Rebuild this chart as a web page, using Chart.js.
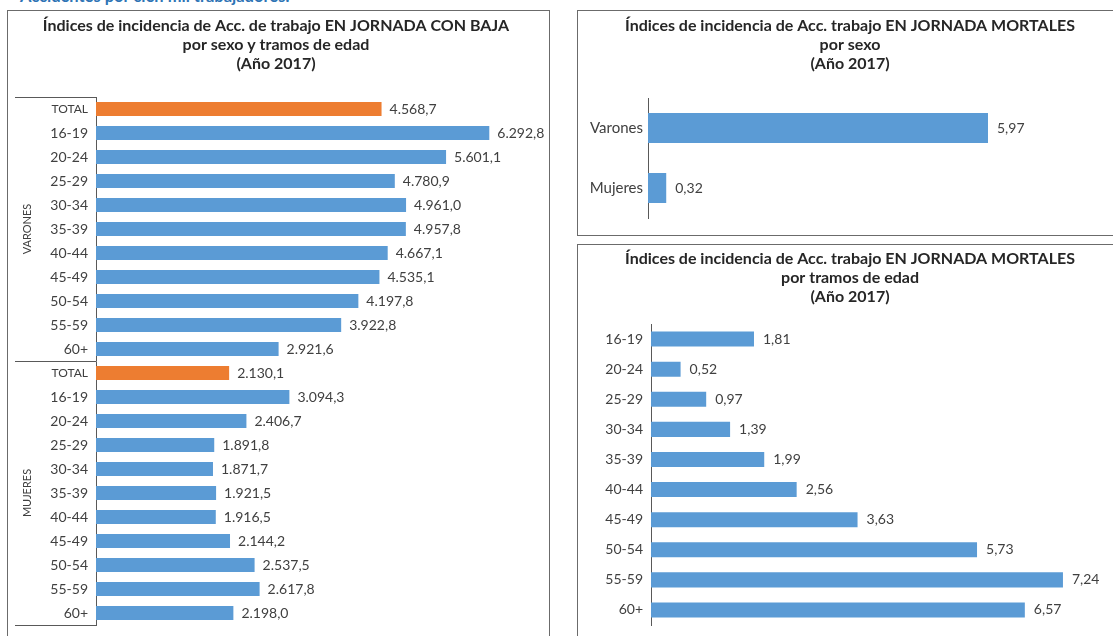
<!DOCTYPE html>
<html lang="es">
<head>
<meta charset="utf-8">
<title>Índices de incidencia 2017</title>
<script src="https://cdn.jsdelivr.net/npm/chart.js@4.4.1/dist/chart.umd.min.js"></script>
<style>
  body { margin: 0; width: 1113px; height: 636px; overflow: hidden; background: #fff; position: relative; font-family: Lato, sans-serif; }
  .panel { position: absolute; border: 1px solid #6b6b6b; box-sizing: border-box; }
  canvas { position: absolute; }
  .cabecera { position: absolute; left: 20px; top: -12px; font: bold 16.5px/1 Lato, sans-serif; color: #2E74B5; white-space: nowrap; }
</style>
</head>
<body>
<div class="cabecera">Accidentes por cien mil trabajadores.</div>
<div class="panel" style="left:7px;top:10px;width:543px;height:640px"></div>
<div class="panel" style="left:577px;top:10px;width:560px;height:226px"></div>
<div class="panel" style="left:577px;top:244px;width:560px;height:420px"></div>
<canvas id="conBaja" width="540" height="631" style="left:8px;top:11px"></canvas>
<canvas id="mortalesSexo" width="535" height="224" style="left:578px;top:11px"></canvas>
<canvas id="mortalesEdad" width="535" height="397" style="left:578px;top:245px"></canvas>
<script>
// Datos (Año 2017)
const tramos = ['16-19', '20-24', '25-29', '30-34', '35-39', '40-44', '45-49', '50-54', '55-59', '60+'];
const grupos = ['VARONES', 'MUJERES'];
// primer valor = TOTAL, después los tramos de edad
const varonesConBaja = [4568.7, 6292.8, 5601.1, 4780.9, 4961.0, 4957.8, 4667.1, 4535.1, 4197.8, 3922.8, 2921.6];
const mujeresConBaja = [2130.1, 3094.3, 2406.7, 1891.8, 1871.7, 1921.5, 1916.5, 2144.2, 2537.5, 2617.8, 2198.0];
const sexos = ['Varones', 'Mujeres'];
const mortalesSexo = [5.97, 0.32];
const mortalesEdad = [1.81, 0.52, 0.97, 1.39, 1.99, 2.56, 3.63, 5.73, 7.24, 6.57];

const AZUL = '#5B9BD5';
const NARANJA = '#ED7D31';
const TEXTO = '#404040';
const EJE = '#595959';
const FUENTE = 'Lato, sans-serif';

Chart.defaults.font.family = FUENTE;
Chart.defaults.color = TEXTO;

// 4568.7 -> "4.568,7"
function formato(v, dec) {
  const [ent, d] = v.toFixed(dec).split('.');
  return ent.replace(/\B(?=(\d{3})+(?!\d))/g, '.') + (d ? ',' + d : '');
}

// etiqueta de valor al final de cada barra
const etiquetas = {
  id: 'etiquetas',
  afterDatasetsDraw(chart, args, opts) {
    const ctx = chart.ctx;
    const datos = chart.data.datasets[0].data;
    ctx.save();
    ctx.font = '14px ' + FUENTE;
    ctx.fillStyle = TEXTO;
    ctx.textAlign = 'left';
    ctx.textBaseline = 'middle';
    chart.getDatasetMeta(0).data.forEach((bar, i) => {
      ctx.fillText(formato(datos[i], opts.decimales), bar.x + opts.separacion, bar.y);
    });
    ctx.restore();
  }
};

// el título va centrado sobre el recuadro, no sobre el área del gráfico
const moverTitulo = {
  id: 'moverTitulo',
  afterLayout(chart, args, opts) {
    const t = chart.titleBlock;
    t.left += opts.dx;
    t.right += opts.dx;
  }
};

// caja de VARONES / MUJERES a la izquierda del eje
const cajaGrupos = {
  id: 'cajaGrupos',
  afterDraw(chart) {
    const { ctx, chartArea, scales: { y } } = chart;
    const n = varonesConBaja.length;
    const corte = (y.getPixelForValue(n - 1) + y.getPixelForValue(n)) / 2;
    ctx.save();
    ctx.strokeStyle = EJE;
    ctx.lineWidth = 1;
    [chartArea.top, corte, chartArea.bottom].forEach(yy => {
      const yp = Math.round(yy) + 0.5;
      ctx.beginPath();
      ctx.moveTo(7, yp);
      ctx.lineTo(chartArea.left, yp);
      ctx.stroke();
    });
    ctx.font = '11px ' + FUENTE;
    ctx.fillStyle = TEXTO;
    ctx.textAlign = 'center';
    ctx.textBaseline = 'middle';
    const centros = [(chartArea.top + corte) / 2, (corte + chartArea.bottom) / 2];
    grupos.forEach((g, i) => {
      ctx.save();
      ctx.translate(19, centros[i]);
      ctx.rotate(-Math.PI / 2);
      ctx.fillText(g, 0, 0);
      ctx.restore();
    });
    ctx.restore();
  }
};

function barras(id, etiquetasY, datos, colores, o) {
  return new Chart(document.getElementById(id), {
    type: 'bar',
    data: {
      labels: etiquetasY,
      datasets: [{ data: datos, backgroundColor: colores, barPercentage: o.barra, categoryPercentage: 1 }]
    },
    options: {
      indexAxis: 'y',
      responsive: false,
      animation: false,
      layout: { padding: o.padding },
      plugins: {
        legend: { display: false },
        tooltip: { enabled: false },
        title: {
          display: true,
          text: o.titulo,
          color: '#262626',
          font: { size: 16, weight: 'bold', lineHeight: '19px' },
          padding: o.tituloPadding
        },
        etiquetas: { decimales: o.decimales, separacion: o.separacion },
        moverTitulo: { dx: o.dx }
      },
      scales: {
        x: { display: false, min: 0, max: o.max },
        y: {
          grid: { display: false, drawTicks: false },
          border: { display: true, color: EJE },
          ticks: { padding: o.tickPadding, autoSkip: false, color: TEXTO, font: o.fuenteTicks },
          afterFit: s => { s.width = o.anchoEje; }
        }
      }
    },
    plugins: [etiquetas, moverTitulo].concat(o.extra || [])
  });
}

const etiquetasConBaja = ['TOTAL', ...tramos, 'TOTAL', ...tramos];
barras('conBaja', etiquetasConBaja, [...varonesConBaja, ...mujeresConBaja],
  etiquetasConBaja.map(l => l === 'TOTAL' ? NARANJA : AZUL), {
    titulo: ['Índices de incidencia de Acc. de trabajo EN JORNADA CON BAJA', 'por sexo y tramos de edad', '(Año 2017)'],
    tituloPadding: { top: 5, bottom: 24 },
    padding: { left: 0, right: 14.5, top: 0, bottom: 17 },
    anchoEje: 88,
    dx: 5.25,
    max: 7000,
    barra: 0.58,
    decimales: 1,
    separacion: 8,
    tickPadding: 8,
    fuenteTicks: c => ({ size: etiquetasConBaja[c.index] === 'TOTAL' ? 12 : 14 }),
    extra: [cajaGrupos]
  });

barras('mortalesSexo', sexos, mortalesSexo, AZUL, {
  titulo: ['Índices de incidencia de Acc. trabajo EN JORNADA MORTALES', 'por sexo', '(Año 2017)'],
  tituloPadding: { top: 5, bottom: 25 },
  padding: { left: 0, right: 9.4, top: 0, bottom: 17 },
  anchoEje: 70,
  dx: 9.2,
  max: 8,
  barra: 0.5,
  decimales: 2,
  separacion: 9,
  tickPadding: 5,
  fuenteTicks: { size: 15 }
});

barras('mortalesEdad', tramos, mortalesEdad, AZUL, {
  titulo: ['Índices de incidencia de Acc. trabajo EN JORNADA MORTALES', 'por tramos de edad', '(Año 2017)'],
  tituloPadding: { top: 4.5, bottom: 17.5 },
  padding: { left: 0, right: 6.8, top: 0, bottom: 17 },
  anchoEje: 73,
  dx: 7.9,
  max: 8,
  barra: 0.5,
  decimales: 2,
  separacion: 9,
  tickPadding: 8,
  fuenteTicks: { size: 14 }
});
</script>
</body>
</html>
